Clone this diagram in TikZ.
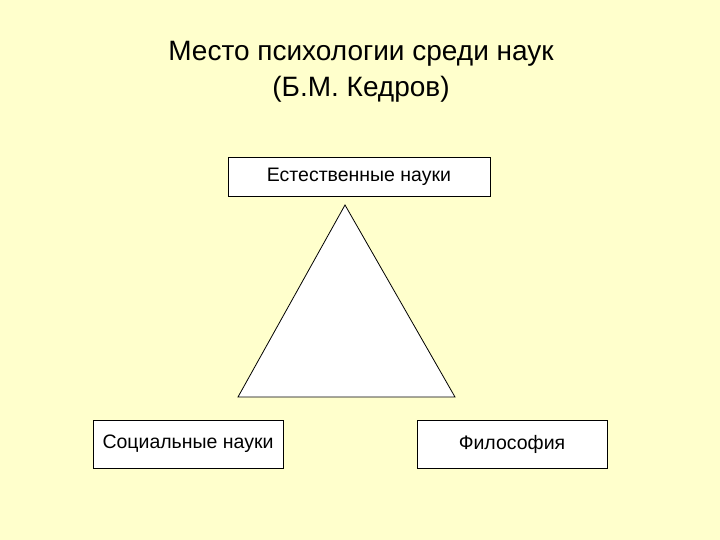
\documentclass[tikz,border=0pt]{standalone}
\usepackage{fontspec}
\setmainfont{Liberation Sans}
\definecolor{bg}{HTML}{FFFFCC}
\begin{document}
\begin{tikzpicture}[x=1pt,y=-1pt,
  box/.style={draw=black,fill=white,line width=0.8pt,inner sep=0pt,font=\fontsize{19.5}{23}\selectfont}]
\fill[bg] (0,0) rectangle (720,540);
\useasboundingbox (0,0) rectangle (720,540);
\node[font=\fontsize{28}{36}\selectfont,align=center] (title) at (361,72) {Место психологии среди наук\\(Б.М. Кедров)};
\node[box,minimum width=262pt,minimum height=39pt] (nat) at (359,176.5) {Естественные науки};
\node[box,minimum width=190pt,minimum height=48pt] (soc) at (188,444) {Социальные науки};
\node[box,minimum width=190pt,minimum height=48pt] (phil) at (512,444) {Философия};
\draw[fill=white,line width=0.8pt] (345,205) -- (238,397) -- (455,397) -- cycle;
\end{tikzpicture}
\end{document}
